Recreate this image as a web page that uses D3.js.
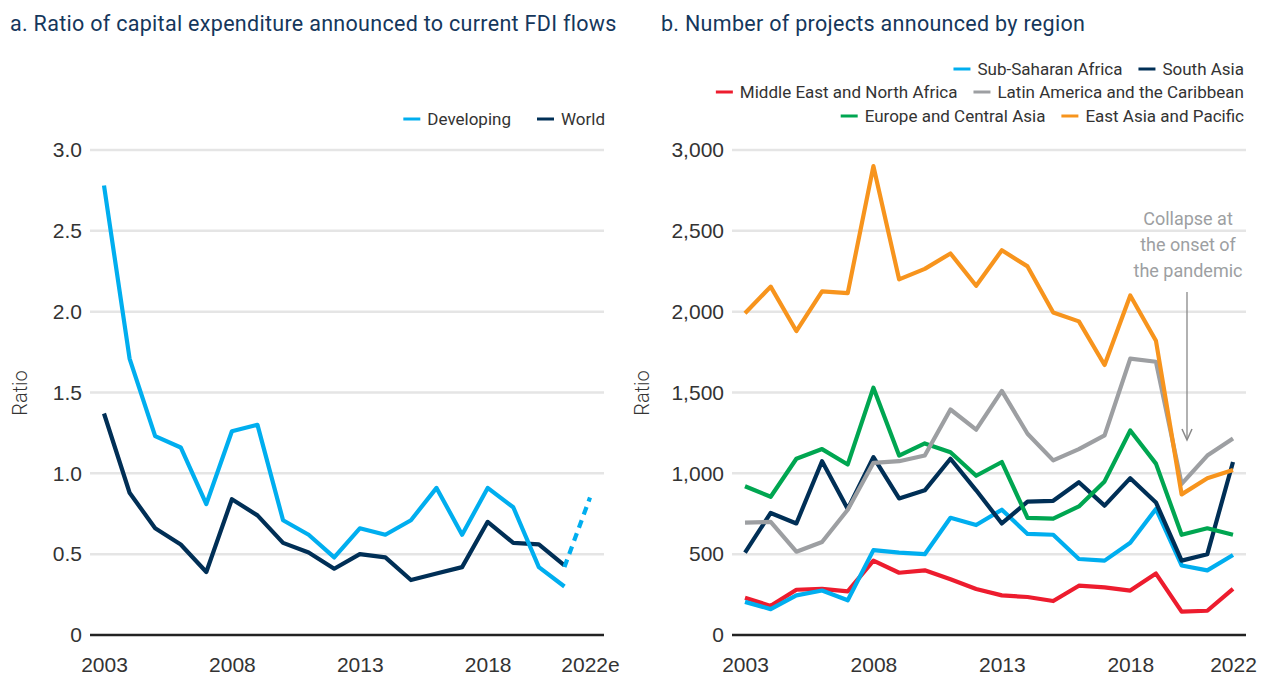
<!DOCTYPE html>
<meta charset="utf-8">
<style>
  body { margin: 0; background: #fff; }
  svg { font-family: Roboto, "Open Sans", sans-serif; }
  .title { font-size: 21.5px; fill: #15375c; letter-spacing: 0.3px; }
  .tick text { font-size: 21px; fill: #333; font-weight: 300; }
  .legend text { font-size: 17px; fill: #333; }
  .grid line { stroke: #e5e5e5; stroke-width: 2.5; }
  .zero { stroke: #222; stroke-width: 2.5; }
  .series { fill: none; stroke-width: 4.2; stroke-linejoin: round; }
</style>
<body>
<script src="https://d3js.org/d3.v7.min.js"></script>
<script>

// panel a
var yearsA = d3.range(2003, 2022);
var developing = [2.78,1.71,1.23,1.16,0.81,1.26,1.30,0.71,0.62,0.48,0.66,0.62,0.71,0.91,0.62,0.91,0.79,0.42,0.30];
var world = [1.37,0.88,0.66,0.56,0.39,0.84,0.74,0.57,0.51,0.41,0.50,0.48,0.34,0.38,0.42,0.70,0.57,0.56,0.43];
var estimateYears = [2021, 2022];
var estimate = [0.42, 0.85];
var ticksA = [0, 0.5, 1.0, 1.5, 2.0, 2.5, 3.0];
var xLabelsA = [[2003,"2003"],[2008,"2008"],[2013,"2013"],[2018,"2018"],[2022,"2022e"]];

// panel b
var yearsB = d3.range(2003, 2023);
var regions = ["Sub-Saharan Africa","South Asia","Middle East and North Africa","Latin America and the Caribbean","Europe and Central Asia","East Asia and Pacific"];
var regionColors = ["#00aeef","#002f56","#ed1c2e","#9d9fa2","#00a651","#f7941d"];
var ssa  = [205,160,245,275,215,525,510,500,725,680,775,625,620,470,460,570,780,430,400,495];
var sas  = [510,755,690,1075,780,1100,845,895,1090,895,690,825,830,945,800,970,820,460,500,1070];
var mena = [230,180,280,285,270,460,385,400,345,285,245,235,210,305,295,275,380,145,150,285];
var lac  = [695,700,515,575,775,1065,1075,1110,1395,1270,1510,1245,1080,1150,1235,1710,1690,935,1110,1215];
var eca  = [920,855,1090,1150,1055,1530,1110,1185,1130,985,1070,725,720,795,950,1265,1060,620,660,620];
var eap  = [1990,2155,1880,2125,2115,2900,2200,2265,2360,2160,2380,2280,1995,1940,1670,2100,1820,870,970,1020];
var ticksB = [0, 500, 1000, 1500, 2000, 2500, 3000];
var xLabelsB = [[2003,"2003"],[2008,"2008"],[2013,"2013"],[2018,"2018"],[2022,"2022"]];

var svg = d3.select("body").append("svg")
    .attr("width", 1262)
    .attr("height", 687);

svg.append("text").attr("class", "title").attr("x", 10).attr("y", 31)
    .text("a. Ratio of capital expenditure announced to current FDI flows");
svg.append("text").attr("class", "title").attr("x", 661).attr("y", 31)
    .text("b. Number of projects announced by region");

function panel(opt) {
  var g = svg.append("g");
  var x = d3.scaleLinear().domain([2003, 2022]).range([opt.x0, opt.x1]);
  var y = d3.scaleLinear().domain([0, opt.ymax]).range([635, 150]);

  g.append("g").attr("class", "grid")
    .selectAll("line").data(opt.ticks.filter(function(d) { return d > 0; }))
    .enter().append("line")
      .attr("x1", opt.g0).attr("x2", opt.g1)
      .attr("y1", function(d) { return y(d); }).attr("y2", function(d) { return y(d); });
  g.append("line").attr("class", "zero")
    .attr("x1", opt.g0).attr("x2", opt.g1).attr("y1", y(0)).attr("y2", y(0));

  var yAxis = d3.axisLeft(y).tickValues(opt.ticks).tickSize(0).tickPadding(8)
    .tickFormat(opt.fmt);
  g.append("g").attr("transform", "translate(" + opt.g0 + ",0)").call(yAxis)
    .call(function(s) { s.select(".domain").remove(); });

  var xAxis = d3.axisBottom(x).tickValues(opt.xLabels.map(function(d) { return d[0]; }))
    .tickSize(0).tickPadding(0)
    .tickFormat(function(d) { return opt.xLabels.find(function(e) { return e[0] === d; })[1]; });
  g.append("g").attr("transform", "translate(0,657)").call(xAxis)
    .call(function(s) { s.select(".domain").remove(); });

  g.append("text")
    .attr("transform", "translate(" + opt.labelX + ",393) rotate(-90)")
    .attr("text-anchor", "middle")
    .style("font-size", "20px").style("fill", "#333").style("font-weight", 300)
    .text("Ratio");

  var line = d3.line()
    .x(function(d) { return x(d[0]); })
    .y(function(d) { return y(d[1]); });

  opt.series.forEach(function(s) {
    g.append("path").attr("class", "series")
      .attr("d", line(d3.zip(s.years, s.values)))
      .style("stroke", s.color)
      .style("stroke-dasharray", s.dash || null);
  });
  return {g: g, x: x, y: y};
}

var a = panel({
  x0: 104, x1: 590, g0: 90, g1: 604, ymax: 3, ticks: ticksA, labelX: 27,
  fmt: function(d) { return d === 0 ? "0" : d3.format(".1f")(d); },
  xLabels: xLabelsA,
  series: [
    {years: yearsA, values: world, color: "#002f56"},
    {years: yearsA, values: developing, color: "#00aeef"},
    {years: estimateYears, values: estimate, color: "#00aeef", dash: "8,6"}
  ]
});

var b = panel({
  x0: 745, x1: 1233, g0: 732, g1: 1246, ymax: 3000, ticks: ticksB, labelX: 649,
  fmt: d3.format(","),
  xLabels: xLabelsB,
  series: [
    {years: yearsB, values: mena, color: "#ed1c2e"},
    {years: yearsB, values: ssa, color: "#00aeef"},
    {years: yearsB, values: sas, color: "#002f56"},
    {years: yearsB, values: eca, color: "#00a651"},
    {years: yearsB, values: lac, color: "#9d9fa2"},
    {years: yearsB, values: eap, color: "#f7941d"}
  ]
});

// legends, each row laid out right to left from its right edge
function legendRow(right, y, items, gap) {
  var xr = right;
  items.slice().reverse().forEach(function(it) {
    var l = svg.append("g").attr("class", "legend");
    var t = l.append("text").attr("y", y + 6).text(it[1]);
    var w = t.node().getComputedTextLength();
    t.attr("x", xr - w);
    l.append("line").attr("x1", xr - w - 24).attr("x2", xr - w - 7)
      .attr("y1", y).attr("y2", y)
      .style("stroke", it[0]).style("stroke-width", 3);
    xr = xr - w - 24 - gap;
  });
}
legendRow(605, 119, [["#00aeef", "Developing"], ["#002f56", "World"]], 26);
legendRow(1244, 69, [[regionColors[0], regions[0]], [regionColors[1], regions[1]]], 16);
legendRow(1244, 92, [[regionColors[2], regions[2]], [regionColors[3], regions[3]]], 16);
legendRow(1244, 116, [[regionColors[4], regions[4]], [regionColors[5], regions[5]]], 16);

// annotation
var ann = svg.append("g");
["Collapse at", "the onset of", "the pandemic"].forEach(function(t, i) {
  ann.append("text").attr("x", 1188).attr("y", 225 + i * 26)
    .attr("text-anchor", "middle")
    .style("font-size", "18px").style("fill", "#9d9fa2")
    .text(t);
});
ann.append("line").attr("x1", 1187).attr("x2", 1187).attr("y1", 292).attr("y2", 439)
  .style("stroke", "#888").style("stroke-width", 1.3);
ann.append("path").attr("d", "M1182,429 L1187,440 L1192,429")
  .style("fill", "none").style("stroke", "#888").style("stroke-width", 1.5);

</script>
</body>
</html>
